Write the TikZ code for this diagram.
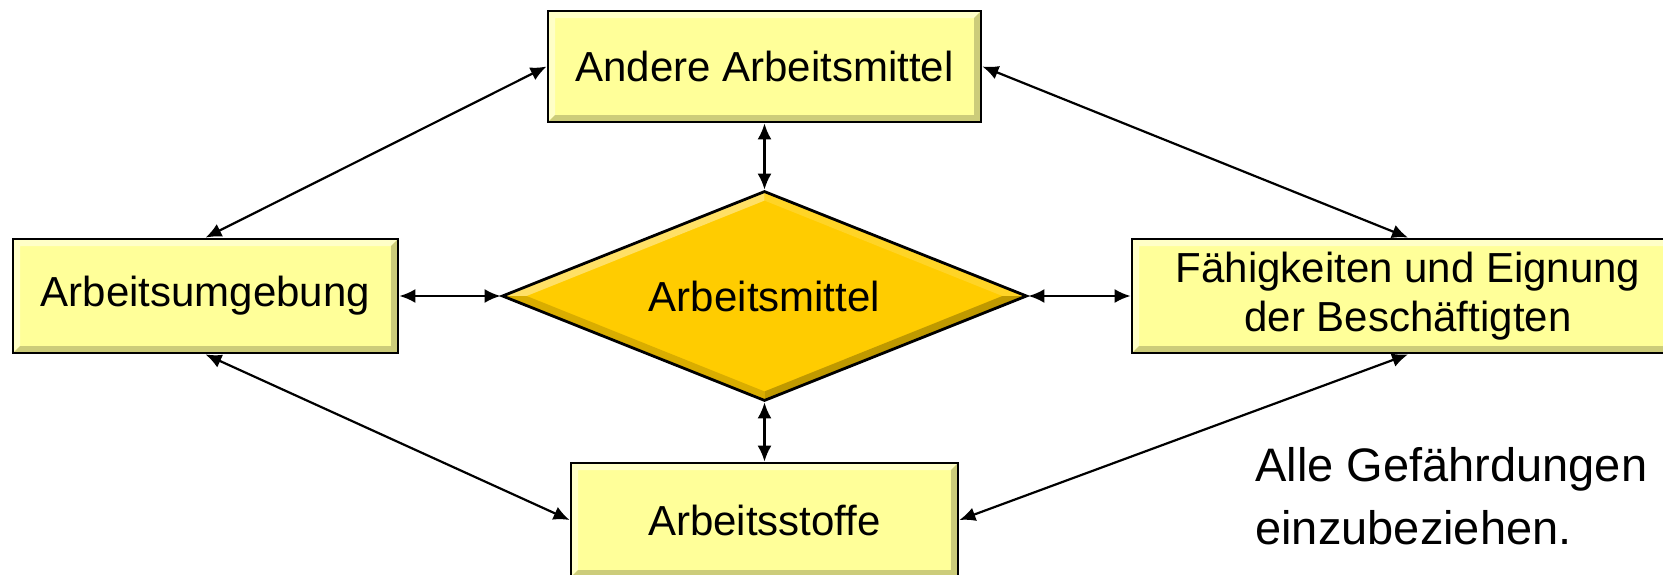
\documentclass[tikz,border=0pt]{standalone}
\usepackage{fontspec}
\setmainfont{Liberation Sans}
\usetikzlibrary{shapes.geometric,arrows.meta,calc}
\definecolor{boxyellow}{RGB}{255,255,153}
\definecolor{gold}{RGB}{255,204,0}

\begin{document}
\begin{tikzpicture}[x=0.5pt,y=-0.5pt,>={Latex[length=8pt,width=7pt]},
    bevel/.style={path picture={
        \coordinate (nw) at (path picture bounding box.north west);
        \coordinate (ne) at (path picture bounding box.north east);
        \coordinate (sw) at (path picture bounding box.south west);
        \coordinate (se) at (path picture bounding box.south east);
        \fill[white!45!boxyellow] (nw) -- (ne) -- ($(ne)+(-7,7)$) -- ($(nw)+(7,7)$) -- ($(sw)+(7,-7)$) -- (sw) -- cycle;
        \fill[boxyellow!80!black] (sw) -- (se) -- (ne) -- ($(ne)+(-7,7)$) -- ($(se)+(-7,-7)$) -- ($(sw)+(7,-7)$) -- cycle;}},
    rbevel/.style={path picture={
        \coordinate (n) at (path picture bounding box.north);
        \coordinate (s) at (path picture bounding box.south);
        \coordinate (w) at (path picture bounding box.west);
        \coordinate (e) at (path picture bounding box.east);
        \fill[gold!60!white] (w) -- (n) -- ($(n)+(0,9)$) -- ($(w)+(24,0)$) -- cycle;
        \fill[gold!85!white] (n) -- (e) -- ($(e)+(-24,0)$) -- ($(n)+(0,9)$) -- cycle;
        \fill[gold!85!black] (w) -- (s) -- ($(s)+(0,-9)$) -- ($(w)+(24,0)$) -- cycle;
        \fill[gold!75!black] (s) -- (e) -- ($(e)+(-24,0)$) -- ($(s)+(0,-9)$) -- cycle;}},
    box/.style={draw, line width=1.4pt, fill=boxyellow, bevel, inner sep=0pt, align=center,
        font=\fontsize{21}{24.5}\selectfont},
    rhomb/.style={draw, shape=diamond, shape aspect=2.5, line width=1.4pt, fill=gold, rbevel, inner sep=0pt,
        minimum width=262.5pt, minimum height=105pt, font=\fontsize{21}{24.5}\selectfont},
    link/.style={<->, line width=1.1pt}]
        \useasboundingbox (0,0) rectangle (1663,574);
        \node[box, minimum width=216.5pt, minimum height=55.5pt] (andere) at (764.5,66.5) {Andere Arbeitsmittel};
        \node[box, minimum width=192.5pt, minimum height=57pt] (umgebung) at (205.5,296) {Arbeitsumgebung};
        \node[rhomb] (mittel) at (764.5,296) {Arbeitsmittel};
        \node[box, minimum width=276pt, minimum height=57pt] (faehig) at (1408,296) {Fähigkeiten und Eignung\\der Beschäftigten};
        \node[box, minimum width=193.5pt, minimum height=57pt] (stoffe) at (764.5,520) {Arbeitsstoffe};
        \node[anchor=north west, inner sep=0pt, align=left, font=\fontsize{23.5}{31.5}\selectfont] (hinweis) at (1255,447) {Alle Gefährdungen\\einzubeziehen.};
        \draw[link] (andere) -- (mittel);
        \draw[link] (mittel) -- (stoffe);
        \draw[link] (umgebung) -- (mittel);
        \draw[link] (mittel) -- (faehig);
        \draw[link] (umgebung.north) -- (andere.west);
        \draw[link] (andere.east) -- (faehig.north);
        \draw[link] (umgebung.south) -- (stoffe.west);
        \draw[link] (faehig.south) -- (stoffe.east);
    \end{tikzpicture}
\end{document}
